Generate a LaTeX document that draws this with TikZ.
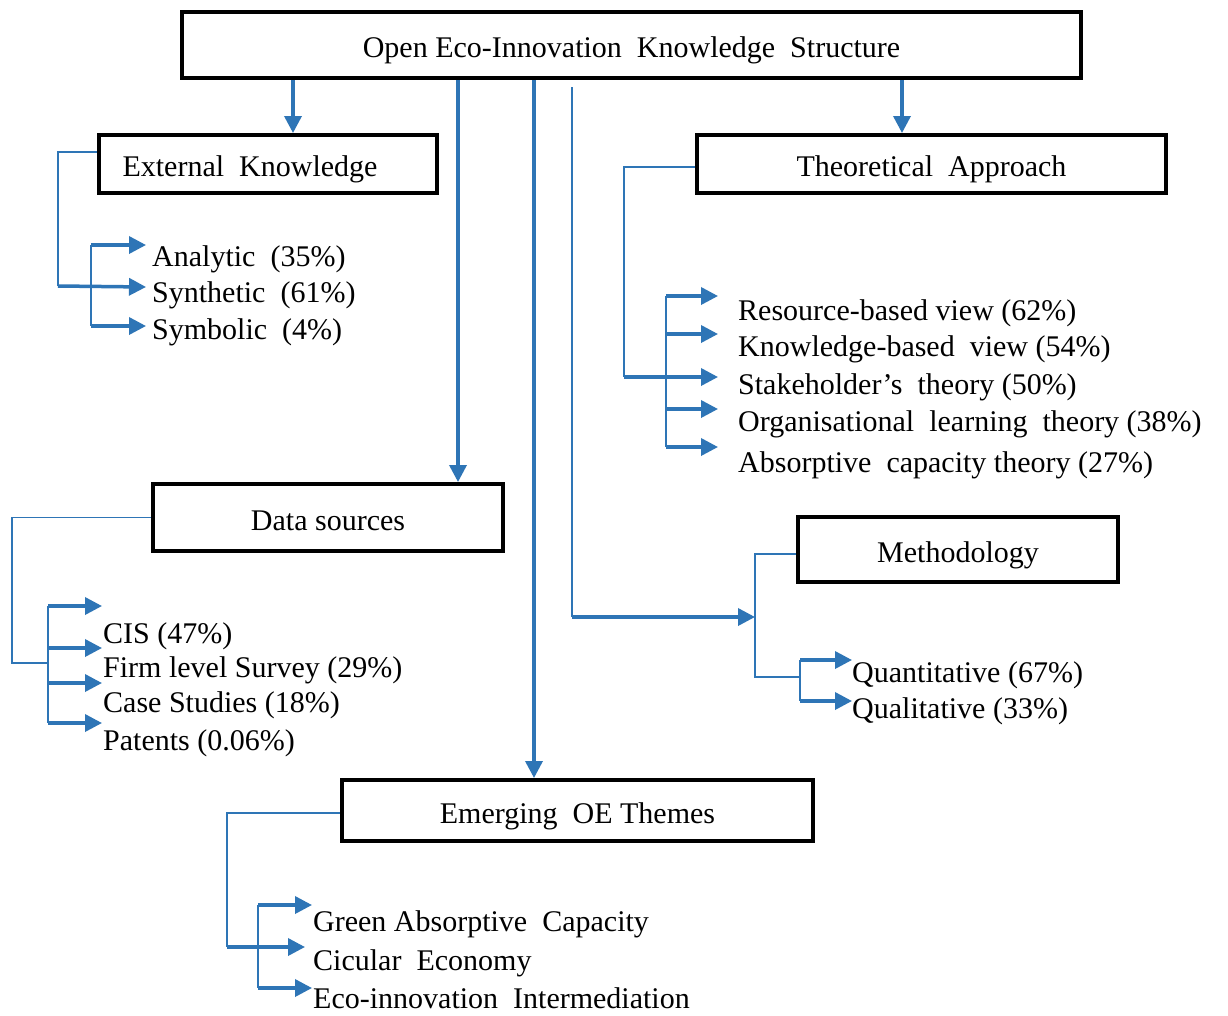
\documentclass[tikz,border=0pt]{standalone}
\usepackage{fontspec}
\setmainfont{Liberation Serif}
\usetikzlibrary{arrows.meta}
\definecolor{lblue}{RGB}{46,117,182}
\begin{document}
\begin{tikzpicture}[x=1pt,y=-1pt,
  box/.style={draw=black,line width=4pt,inner sep=0pt,text height=28pt,text depth=3pt,font=\fontsize{30}{36}\selectfont},
  item/.style={anchor=base west,inner sep=0pt,font=\fontsize{30}{36}\selectfont},
  thinline/.style={draw=lblue,line width=1.5pt},
  midline/.style={draw=lblue,line width=2.2pt},
  thk/.style={draw=lblue,line width=3.5pt,-{Triangle[length=17pt,width=17pt]}}
]
\useasboundingbox[fill=white] (0,0) rectangle (1228,1015);

% boxes
\node[box,minimum width=899pt,minimum height=66pt] (top) at (631.5,45) {Open Eco-Innovation\ \ Knowledge\ \ Structure};
\node[box,minimum width=338pt,minimum height=58pt] (ek) at (268,164) {External\ \ Knowledge\hspace*{36pt}};
\node[box,minimum width=469pt,minimum height=58pt] (ta) at (931.5,164) {Theoretical\ \ Approach};
\node[box,minimum width=350pt,minimum height=67pt] (ds) at (328,517.5) {Data sources};
\node[box,minimum width=320pt,minimum height=65pt] (meth) at (958,549.5) {Methodology};
\node[box,minimum width=471pt,minimum height=61pt] (eoe) at (577.5,810.5) {Emerging\ \ OE Themes};

% items
\node[item] (an) at (152,266) {Analytic\ \ (35\%)};
\node[item] (sy) at (152,302) {Synthetic\ \ (61\%)};
\node[item] (sb) at (152,339) {Symbolic\ \ (4\%)};

\node[item] (rbv) at (738,320) {Resource-based view\ (62\%)};
\node[item] (kbv) at (738,356) {Knowledge-based\ \ view\ (54\%)};
\node[item] (sth) at (738,394) {Stakeholder’s\ \ theory (50\%)};
\node[item] (olt) at (738,431) {Organisational\ \ learning\ \ theory (38\%)};
\node[item] (act) at (738,472) {Absorptive\ \ capacity theory (27\%)};

\node[item] (cis) at (103,643) {CIS (47\%)};
\node[item] (fls) at (103,677) {Firm level Survey (29\%)};
\node[item] (cs)  at (103,712) {Case Studies (18\%)};
\node[item] (pat) at (103,750) {Patents (0.06\%)};

\node[item] (qn) at (852,682) {Quantitative (67\%)};
\node[item] (ql) at (852,718) {Qualitative\ (33\%)};

\node[item] (gac) at (313,931) {Green Absorptive\ \ Capacity};
\node[item] (ce)  at (313,970) {Cicular\ \ Economy};
\node[item] (eii) at (313,1008) {Eco-innovation\ \ Intermediation};

% arrows from the top box
\coordinate (xek) at (293,0);
\coordinate (xds) at (458,0);
\coordinate (xeo) at (534,0);
\coordinate (xta) at (902,0);
\draw[thk] (top.south -| xek) -- (ek.north -| xek);
\draw[thk] (top.south -| xds) -- (ds.north -| xds);
\draw[thk] (top.south -| xeo) -- (eoe.north -| xeo);
\draw[thk] (top.south -| xta) -- (ta.north -| xta);
\coordinate (m0) at (572,87);
\coordinate (m1) at (572,617);
\coordinate (m2) at (755,617);
\draw[thinline] (m0) -- (m1);
\draw[thk] (m1) -- (m2);

% External knowledge bracket
\coordinate (ekA) at (58,152);
\coordinate (ekB) at (58,286);
\coordinate (ekI1) at (91,245);
\coordinate (ekI2) at (91,326);
\coordinate (ekT1) at (146,245);
\coordinate (ekT2) at (146,287);
\coordinate (ekT3) at (146,326);
\draw[thinline] ([yshift=12pt]ek.west) -- (ekA) -- (ekB);
\draw[thk] (ekB) -- (ekT2);
\draw[midline] (ekI1) -- (ekI2);
\draw[thk] (ekI1) -- (ekT1);
\draw[thk] (ekI2) -- (ekT3);

% Theoretical approach bracket
\coordinate (taA) at (624,167);
\coordinate (taB) at (624,377);
\coordinate (taI1) at (666,296);
\coordinate (taI2) at (666,334);
\coordinate (taI4) at (666,409);
\coordinate (taI5) at (666,447);
\coordinate (taT1) at (718,296);
\coordinate (taT2) at (718,334);
\coordinate (taT3) at (718,377);
\coordinate (taT4) at (718,409);
\coordinate (taT5) at (718,447);
\draw[thinline] ([yshift=-3pt]ta.west) -- (taA) -- (taB);
\draw[thk] (taB) -- (taT3);
\draw[midline] (taI1) -- (taI5);
\draw[thk] (taI1) -- (taT1);
\draw[thk] (taI2) -- (taT2);
\draw[thk] (taI4) -- (taT4);
\draw[thk] (taI5) -- (taT5);

% Data sources bracket
\coordinate (dsA) at (12,517.5);
\coordinate (dsB) at (12,663);
\coordinate (dsC) at (48,663);
\coordinate (dsI1) at (48,606);
\coordinate (dsI2) at (48,648);
\coordinate (dsI3) at (48,683);
\coordinate (dsI4) at (48,723);
\coordinate (dsT1) at (102,606);
\coordinate (dsT2) at (102,648);
\coordinate (dsT3) at (102,683);
\coordinate (dsT4) at (102,723);
\draw[thinline] (ds.west) -- (dsA) -- (dsB) -- (dsC);
\draw[midline] (dsI1) -- (dsI4);
\draw[thk] (dsI1) -- (dsT1);
\draw[thk] (dsI2) -- (dsT2);
\draw[thk] (dsI3) -- (dsT3);
\draw[thk] (dsI4) -- (dsT4);

% Methodology bracket
\coordinate (mA) at (755,554);
\coordinate (mB) at (755,677);
\coordinate (mC) at (800,677);
\coordinate (mI1) at (800,660);
\coordinate (mI2) at (800,701);
\coordinate (mT1) at (852,660);
\coordinate (mT2) at (852,701);
\draw[thinline] ([yshift=-4.5pt]meth.west) -- (mA) -- (mB) -- (mC);
\draw[midline] (mI1) -- (mI2);
\draw[thk] (mI1) -- (mT1);
\draw[thk] (mI2) -- (mT2);

% Emerging themes bracket
\coordinate (eA) at (227,813);
\coordinate (eB) at (227,947);
\coordinate (eT2) at (305,947);
\coordinate (eI1) at (258,905);
\coordinate (eI2) at (258,988);
\coordinate (eT1) at (312,905);
\coordinate (eT3) at (312,988);
\draw[thinline] ([yshift=-2.5pt]eoe.west) -- (eA) -- (eB);
\draw[thk] (eB) -- (eT2);
\draw[midline] (eI1) -- (eI2);
\draw[thk] (eI1) -- (eT1);
\draw[thk] (eI2) -- (eT3);
\end{tikzpicture}
\end{document}
